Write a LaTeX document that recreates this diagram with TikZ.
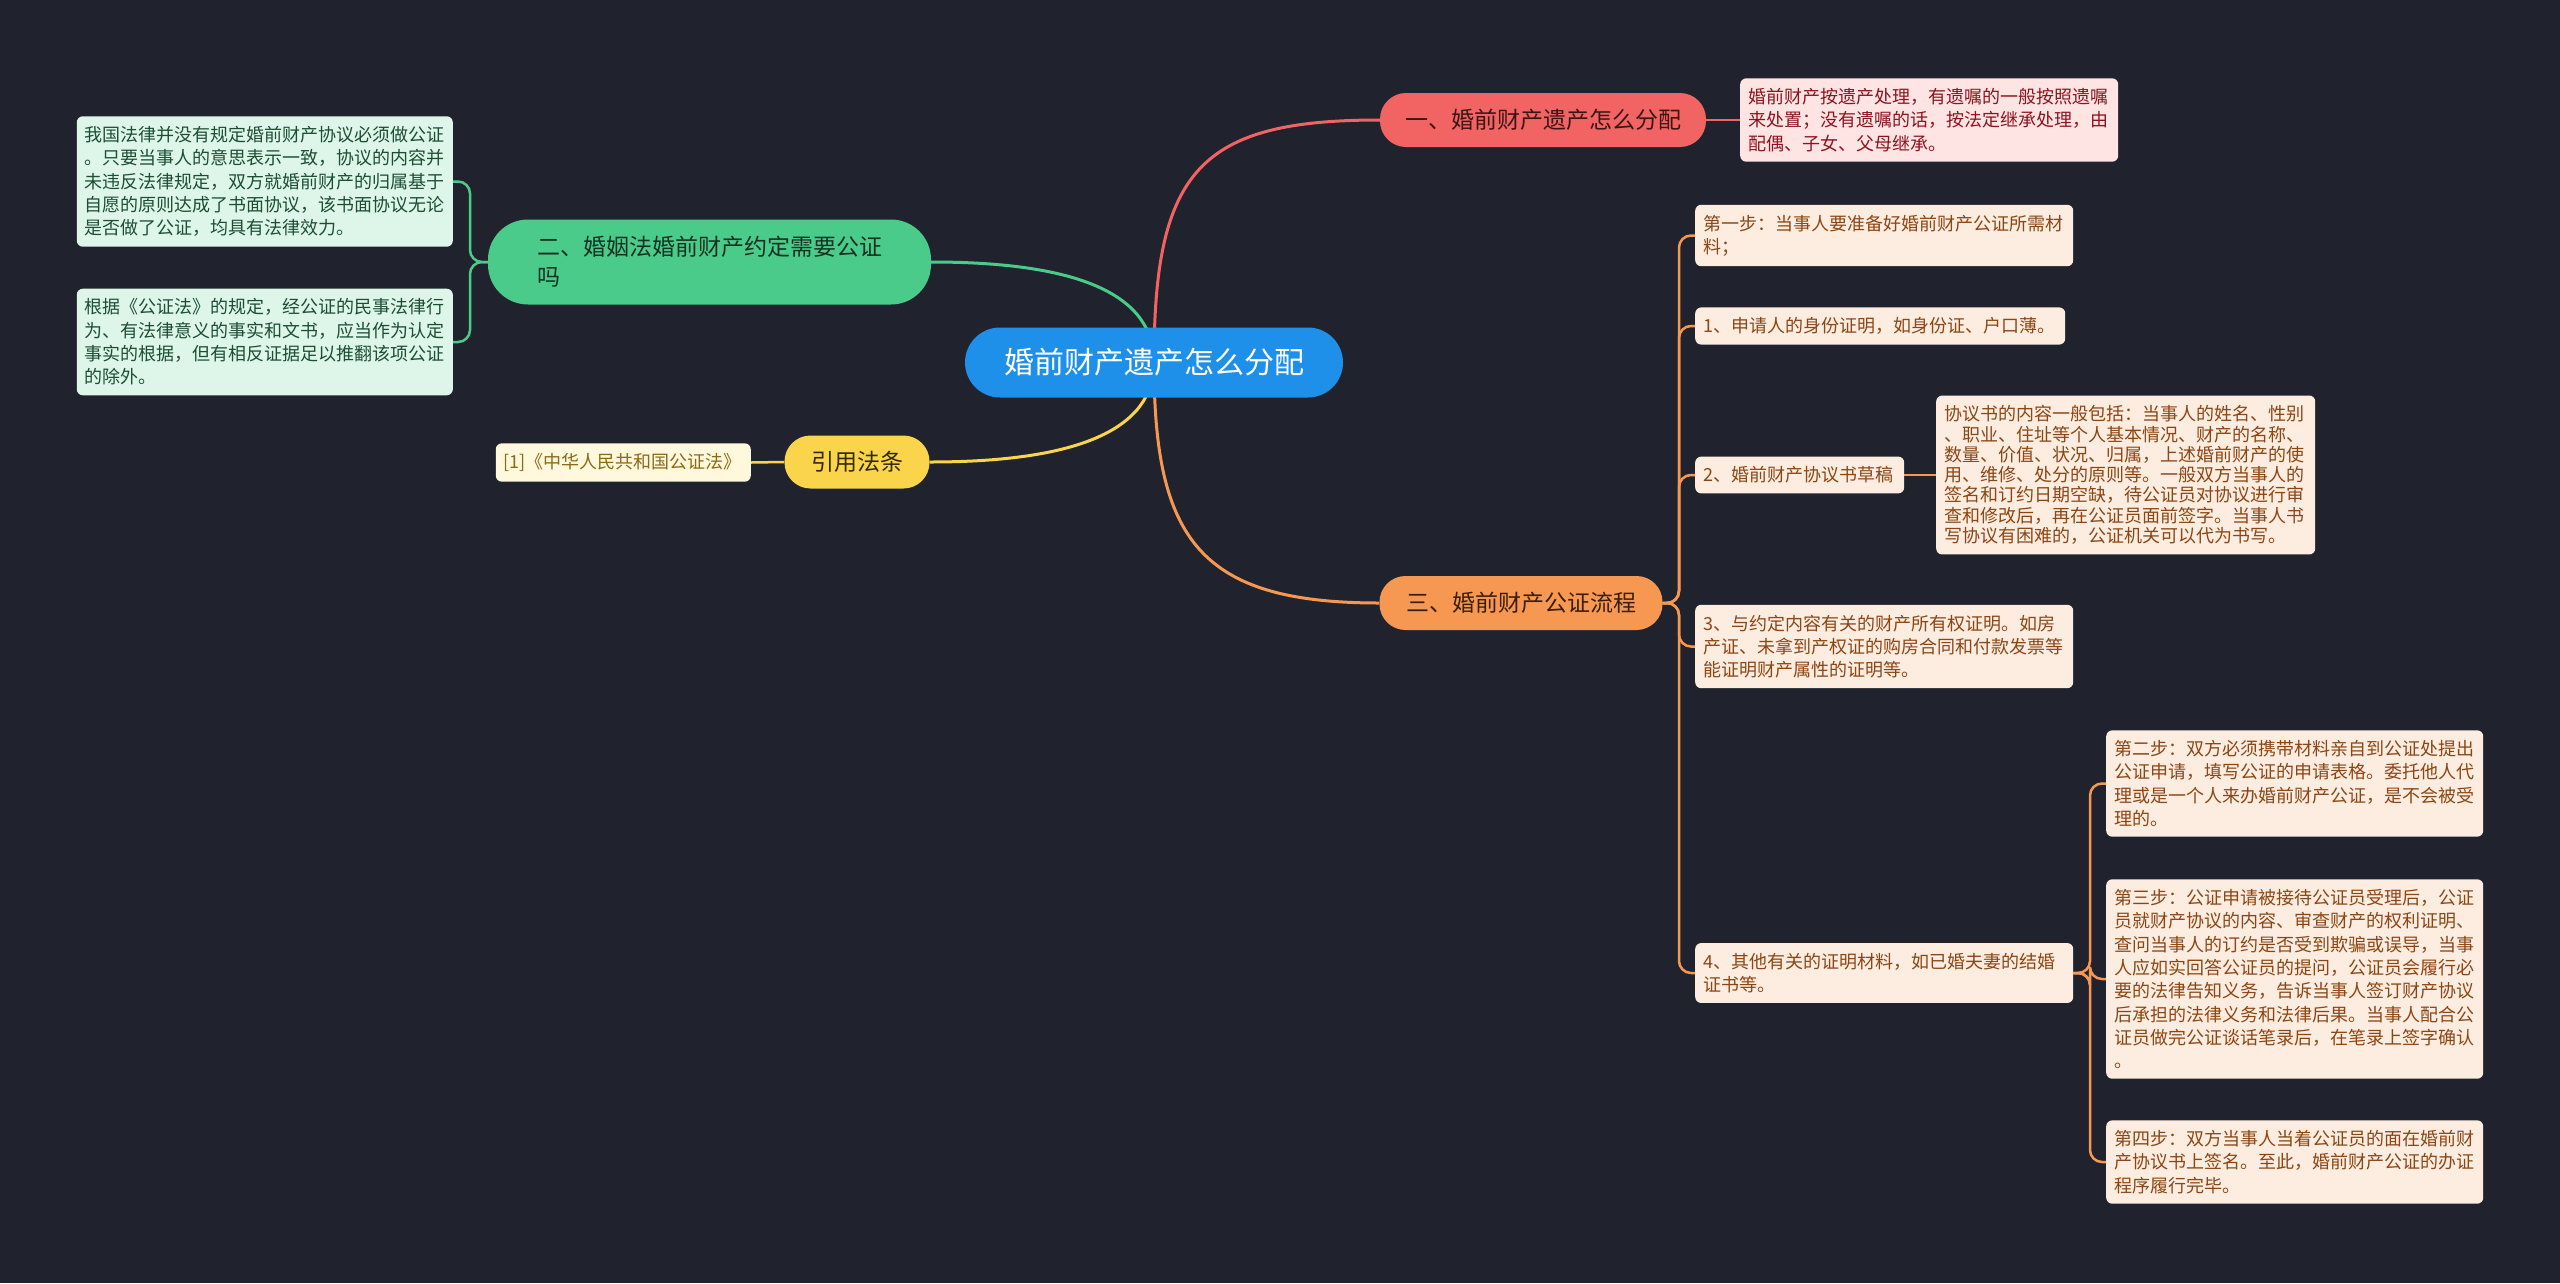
\documentclass[tikz,border=0pt]{standalone}
\usepackage{fontspec}
\setmainfont{Noto Sans CJK SC}
\usetikzlibrary{backgrounds}
\definecolor{bgc}{RGB}{32,35,46}
\definecolor{cblue}{RGB}{30,144,234}
\definecolor{cred}{RGB}{242,99,99}
\definecolor{fred}{RGB}{255,228,228}
\definecolor{tred}{RGB}{140,20,30}
\definecolor{bred}{RGB}{60,20,20}
\definecolor{cgreen}{RGB}{74,203,138}
\definecolor{fgreen}{RGB}{222,246,233}
\definecolor{tgreen}{RGB}{28,78,52}
\definecolor{bgreen}{RGB}{20,50,35}
\definecolor{cyellow}{RGB}{250,213,76}
\definecolor{fyellow}{RGB}{255,248,220}
\definecolor{tyellow}{RGB}{140,105,20}
\definecolor{byellow}{RGB}{50,40,10}
\definecolor{corange}{RGB}{247,152,82}
\definecolor{forange}{RGB}{253,236,224}
\definecolor{torange}{RGB}{140,70,20}
\definecolor{borange}{RGB}{60,30,10}
\tikzset{
  rootbox/.style={rectangle, rounded corners=35pt, fill=cblue, text=white, inner sep=0pt,
    minimum width=378pt, minimum height=70pt, font=\fontsize{30}{36}\selectfont},
  brbox/.style={rectangle, rounded corners=26pt, inner sep=0pt, font=\fontsize{23}{28}\selectfont},
  leafbox/.style={rectangle, rounded corners=6pt, inner xsep=8pt, inner ysep=10pt, align=left,
    font=\fontsize{18}{23.3}\selectfont},
  redleaf/.style={leafbox, fill=fred, text=tred},
  greenleaf/.style={leafbox, fill=fgreen, text=tgreen},
  yellowleaf/.style={leafbox, fill=fyellow, text=tyellow},
  orangeleaf/.style={leafbox, fill=forange, text=torange},
  mainline/.style={line width=3pt},
  subline/.style={line width=2.5pt, rounded corners=12pt}
}
\begin{document}
\begin{tikzpicture}[x=1pt,y=-1pt]
\useasboundingbox (0,0) rectangle (2560,1283);

% root and branches
\node[rootbox] (root) at (1154,362.5) {婚前财产遗产怎么分配};
\node[brbox, fill=cred, text=bred, minimum width=326pt, minimum height=54pt] (b1) at (1543,120) {一、婚前财产遗产怎么分配};
\node[brbox, fill=cgreen, text=bgreen, minimum width=443pt, minimum height=85pt, rounded corners=40pt, align=left, font=\fontsize{23}{30}\selectfont] (b2) at (709.5,262) {二、婚姻法婚前财产约定需要公证\\吗};
\node[brbox, fill=cyellow, text=byellow, minimum width=145pt, minimum height=53pt] (b4) at (857,462) {引用法条};
\node[brbox, fill=corange, text=borange, minimum width=283pt, minimum height=54pt] (b3) at (1521,603) {三、婚前财产公证流程};

% red leaf
\node[redleaf, anchor=west, text width=362pt] (rl) at (1740,120) {婚前财产按遗产处理，有遗嘱的一般按照遗嘱\\来处置；没有遗嘱的话，按法定继承处理，由\\配偶、子女、父母继承。};

% green leaves
\node[greenleaf, anchor=east, text width=360pt] (g1) at (453,181.5) {我国法律并没有规定婚前财产协议必须做公证\\。只要当事人的意思表示一致，协议的内容并\\未违反法律规定，双方就婚前财产的归属基于\\自愿的原则达成了书面协议，该书面协议无论\\是否做了公证，均具有法律效力。};
\node[greenleaf, anchor=east, text width=360pt] (g2) at (453,342) {根据《公证法》的规定，经公证的民事法律行\\为、有法律意义的事实和文书，应当作为认定\\事实的根据，但有相反证据足以推翻该项公证\\的除外。};

% yellow leaf
\node[yellowleaf, anchor=east, text width=239pt] (yl) at (751,462.5) {[1]《中华人民共和国公证法》};

% orange leaves
\node[orangeleaf, anchor=west, text width=362pt] (o1) at (1695,235.5) {第一步：当事人要准备好婚前财产公证所需材\\料；};
\node[orangeleaf, anchor=west, text width=354pt] (o2) at (1695,326) {1、申请人的身份证明，如身份证、户口薄。};
\node[orangeleaf, anchor=west, text width=193pt] (o3) at (1695,475) {2、婚前财产协议书草稿};
\node[orangeleaf, anchor=west, text width=363pt, font=\fontsize{18}{20.3}\selectfont] (op) at (1936,475) {协议书的内容一般包括：当事人的姓名、性别\\、职业、住址等个人基本情况、财产的名称、\\数量、价值、状况、归属，上述婚前财产的使\\用、维修、处分的原则等。一般双方当事人的\\签名和订约日期空缺，待公证员对协议进行审\\查和修改后，再在公证员面前签字。当事人书\\写协议有困难的，公证机关可以代为书写。};
\node[orangeleaf, anchor=west, text width=362pt] (o4) at (1695,646.5) {3、与约定内容有关的财产所有权证明。如房\\产证、未拿到产权证的购房合同和付款发票等\\能证明财产属性的证明等。};
\node[orangeleaf, anchor=west, text width=362pt] (o5) at (1695,973) {4、其他有关的证明材料，如已婚夫妻的结婚\\证书等。};
\node[orangeleaf, anchor=west, text width=361pt] (c1) at (2106,783.5) {第二步：双方必须携带材料亲自到公证处提出\\公证申请，填写公证的申请表格。委托他人代\\理或是一个人来办婚前财产公证，是不会被受\\理的。};
\node[orangeleaf, anchor=west, text width=361pt] (c2) at (2106,979) {第三步：公证申请被接待公证员受理后，公证\\员就财产协议的内容、审查财产的权利证明、\\查问当事人的订约是否受到欺骗或误导，当事\\人应如实回答公证员的提问，公证员会履行必\\要的法律告知义务，告诉当事人签订财产协议\\后承担的法律义务和法律后果。当事人配合公\\证员做完公证谈话笔录后，在笔录上签字确认\\。};
\node[orangeleaf, anchor=west, text width=361pt] (c3) at (2106,1162) {第四步：双方当事人当着公证员的面在婚前财\\产协议书上签名。至此，婚前财产公证的办证\\程序履行完毕。};

\coordinate (gj) at (470,262);
\coordinate (oj) at (1679,603);
\coordinate (cj) at (2090,973);

\begin{scope}[on background layer]
\fill[bgc] (0,0) rectangle (2560,1283);
\draw[mainline, cred] (root.center) .. controls (1154,170) and (1200,120) .. (b1.west);
\draw[mainline, cgreen] (root.center) .. controls (1154,295) and (1080,262) .. (b2.east);
\draw[mainline, cyellow] (root.center) .. controls (1154,429) and (1079,462) .. (b4.east);
\draw[mainline, corange] (root.center) .. controls (1154,540) and (1200,603) .. (b3.west);
\draw[subline, cred] (b1.east) -- (rl.west);
\draw[subline, cyellow] (b4.west) -- (yl.east);
\draw[subline, cgreen] (b2.west) -- (gj) |- (g1.east);
\draw[subline, cgreen] (b2.west) -- (gj) |- (g2.east);
\draw[subline, corange] (b3.east) -- (oj) |- (o1.west);
\draw[subline, corange] (b3.east) -- (oj) |- (o2.west);
\draw[subline, corange] (b3.east) -- (oj) |- (o3.west);
\draw[subline, corange] (b3.east) -- (oj) |- (o4.west);
\draw[subline, corange] (b3.east) -- (oj) |- (o5.west);
\draw[subline, corange] (o3.east) -- (op.west);
\draw[subline, corange] (o5.east) -- (cj) |- (c1.west);
\draw[subline, corange] (o5.east) -- (cj) |- (c2.west);
\draw[subline, corange] (o5.east) -- (cj) |- (c3.west);
\end{scope}
\end{tikzpicture}
\end{document}
